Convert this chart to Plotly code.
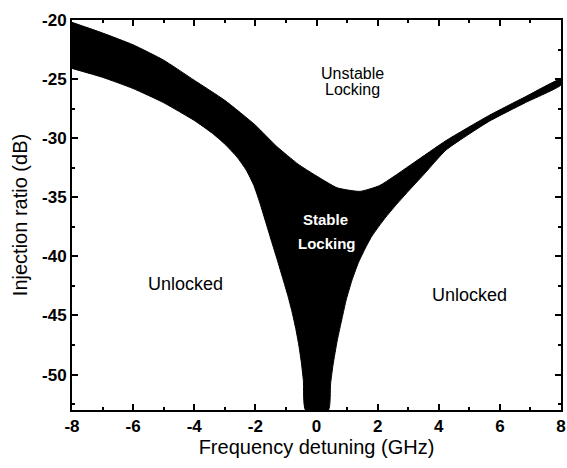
import plotly.graph_objects as go

# Upper boundary of the locking region (left to right)
upper_x = [-8, -7, -6, -5, -4, -3, -2, -1.3, -0.6, -0.06, 0.68, 1.42, 2.07, 3.17, 4.24, 5.63, 6.83, 8]
upper_y = [-20.2, -21.1, -22.1, -23.4, -25.1, -26.8, -28.9, -30.7, -32.2, -33.1, -34.2,
           -34.5, -34.0, -32.1, -30.2, -28.1, -26.5, -25.0]

# Lower boundary, negative detuning side (left to right)
lower_left_x = [-8, -7, -6, -5, -4, -3.4, -3, -2.6, -2.3, -2.05, -1.85, -1.65, -1.45,
                -1.26, -1.1, -0.94, -0.8, -0.68, -0.58, -0.5, -0.43, -0.36]
lower_left_y = [-24.1, -24.85, -25.8, -27.0, -28.5, -29.6, -30.5, -31.6, -32.7, -34.0,
                -35.5, -37.2, -38.9, -40.5, -41.9, -43.3, -44.7, -46.1, -47.5, -48.9,
                -50.5, -53.0]

# Lower boundary, positive detuning side (left to right)
lower_right_x = [0.39, 0.46, 0.54, 0.68, 0.84, 0.97, 1.15, 1.36, 1.58, 1.81, 2.23, 2.62,
                 3.0, 3.5, 4.24, 5.63, 6.83, 8]
lower_right_y = [-53.0, -50.8, -49.2, -47.1, -45.2, -43.7, -42.1, -40.6, -39.4, -38.3,
                 -36.8, -35.6, -34.5, -33.1, -31.0, -28.6, -27.0, -25.5]

# Axis ticks
x_ticks = [-8, -6, -4, -2, 0, 2, 4, 6, 8]
x_tick_text = ["-8", "-6", "-4", "-2", "0", "2", "4", "6", "8"]
y_ticks = [-50, -45, -40, -35, -30, -25, -20]
y_tick_text = ["-50", "-45", "-40", "-35", "-30", "-25", "-20"]

# Region labels
labels = ["Unstable", "Locking", "Stable", "Locking", "Unlocked", "Unlocked"]
label_x = [1.17, 1.17, 0.28, 0.33, -4.28, 5.0]
label_y = [-24.5, -25.9, -36.9, -38.9, -42.3, -43.3]

FONT = "Liberation Sans, Arial, sans-serif"

# Closed outline: upper edge, then right lower edge back down, then left lower edge back up
poly_x = upper_x + lower_right_x[::-1] + lower_left_x[::-1]
poly_y = upper_y + lower_right_y[::-1] + lower_left_y[::-1]

fig = go.Figure()
fig.add_trace(go.Scatter(
    x=poly_x, y=poly_y, mode="lines", fill="toself",
    fillcolor="black", line=dict(color="black", width=1, shape="spline", smoothing=0.5),
    hoverinfo="skip", showlegend=False,
))

label_styles = [
    dict(size=16, color="black", weight="normal"),
    dict(size=16, color="black", weight="normal"),
    dict(size=15, color="white", weight="bold"),
    dict(size=15, color="white", weight="bold"),
    dict(size=18, color="black", weight="normal"),
    dict(size=18, color="black", weight="normal"),
]
for txt, lx, ly, st in zip(labels, label_x, label_y, label_styles):
    fig.add_annotation(x=lx, y=ly, text=txt, showarrow=False,
                       xanchor="center", yanchor="middle",
                       font=dict(family=FONT, **st))

tick_font = dict(family=FONT, size=17, color="black", weight="bold")
title_font = dict(family=FONT, size=20, color="black")

axis_common = dict(
    showline=True, linecolor="black", linewidth=2, mirror="ticks",
    ticks="inside", ticklen=6, tickwidth=1.5, tickcolor="black",
    showgrid=False, zeroline=False, tickmode="array",
)

fig.update_xaxes(
    range=[-8, 8], tickvals=x_ticks, ticktext=x_tick_text,
    minor=dict(ticks="inside", dtick=1, tick0=-8, ticklen=3, tickwidth=1.5, tickcolor="black"),
    title=dict(text="Frequency detuning (GHz)", standoff=0, font=title_font),
    tickfont=tick_font,
    ticklabeloverflow="allow",
    **axis_common,
)
fig.update_yaxes(
    range=[-53, -20], tickvals=y_ticks, ticktext=y_tick_text,
    minor=dict(ticks="inside", dtick=2.5, tick0=-50, ticklen=3, tickwidth=1.5, tickcolor="black"),
    title=dict(text="Injection ratio (dB)", standoff=9, font=title_font),
    tickfont=tick_font,
    **axis_common,
)

fig.update_layout(
    width=567, height=468,
    margin=dict(l=72, r=1, t=20, b=58),
    plot_bgcolor="white", paper_bgcolor="white",
    font=dict(family=FONT),
)

fig.write_html("out.html")
